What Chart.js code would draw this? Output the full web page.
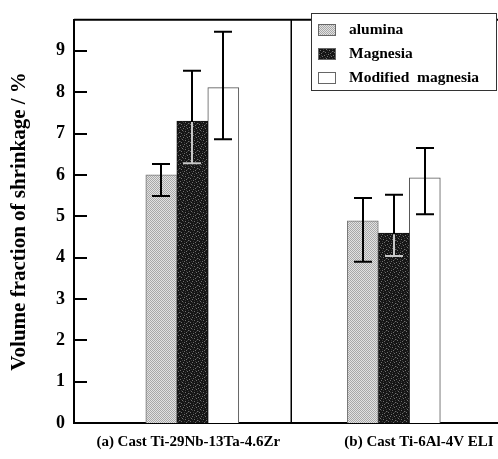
<!DOCTYPE html>
<html><head><meta charset="utf-8">
<script src="https://cdn.jsdelivr.net/npm/chart.js@4/dist/chart.umd.min.js"></script>
<style>html,body{margin:0;padding:0;background:#fff;}canvas{display:block}</style>
</head><body>
<canvas id="c" width="498" height="459"></canvas>
<script>
// ---- data ----
const categories = ['(a) Cast Ti-29Nb-13Ta-4.6Zr', '(b) Cast Ti-6Al-4V ELI'];
const seriesNames = ['alumina', 'Magnesia', 'Modified  magnesia'];
const alumina = [6.00, 4.89];
const magnesia = [7.30, 4.59];
const modified = [8.11, 5.93];
const aluminaLow = [5.49, 3.90];
const aluminaHigh = [6.26, 5.44];
const magnesiaLow = [6.28, 4.04];
const magnesiaHigh = [8.52, 5.52];
const modifiedLow = [6.86, 5.05];
const modifiedHigh = [9.46, 6.65];
const yTicks = [0, 1, 2, 3, 4, 5, 6, 7, 8, 9];
const yAxisTitle = 'Volume fraction of shrinkage / %';

// ---- patterns ----
function makePattern(size, fn) {
  const c = document.createElement('canvas');
  c.width = size; c.height = size;
  const g = c.getContext('2d');
  fn(g);
  return g.createPattern(c, 'repeat');
}
const ctxMain = document.getElementById('c').getContext('2d');
const aluminaFill = makePattern(2, g => {
  g.fillStyle = '#e2e2e2'; g.fillRect(0, 0, 2, 2);
  g.fillStyle = '#a8a8a8'; g.fillRect(0, 0, 1, 1); g.fillRect(1, 1, 1, 1);
});
const magnesiaFill = makePattern(9, g => {
  g.fillStyle = '#151515'; g.fillRect(0, 0, 9, 9);
  g.fillStyle = '#707070';
  [[0,1],[4,0],[7,2],[2,4],[5,5],[1,7],[8,6],[6,8],[3,2]].forEach(p => g.fillRect(p[0], p[1], 1, 1));
  g.fillStyle = '#3a3a3a';
  [[1,3],[6,1],[0,6],[4,7],[8,4],[2,0],[5,3],[7,7],[3,5]].forEach(p => g.fillRect(p[0], p[1], 1, 1));
});

const serif = "'Liberation Serif', 'DejaVu Serif', serif";
const lows = [aluminaLow, magnesiaLow, modifiedLow];
const highs = [aluminaHigh, magnesiaHigh, modifiedHigh];
const insideColors = ['#000', '#c8c8c8', '#000'];

const toPts = arr => arr.map((v, i) => ({ x: i, y: v }));

const decorPlugin = {
  id: 'decor',
  afterDatasetsDraw(chart) {
    const { ctx, chartArea: a, scales: { x, y } } = chart;
    ctx.save();
    // error bars
    chart.data.datasets.forEach((ds, di) => {
      const meta = chart.getDatasetMeta(di);
      meta.data.forEach((el, j) => {
        const cx = Math.round(el.x);
        const yl = y.getPixelForValue(lows[di][j]);
        const yh = y.getPixelForValue(highs[di][j]);
        const half = 9;
        ctx.lineWidth = 2;
        ctx.strokeStyle = '#000';
        ctx.beginPath();
        ctx.moveTo(cx, yl); ctx.lineTo(cx, yh);
        ctx.moveTo(cx - half, yh); ctx.lineTo(cx + half, yh);
        ctx.moveTo(cx - half, yl); ctx.lineTo(cx + half, yl);
        ctx.stroke();
        if (insideColors[di] !== '#000') {
          const top = el.y + 1;
          ctx.strokeStyle = insideColors[di];
          ctx.beginPath();
          ctx.moveTo(cx, Math.max(top, yh)); ctx.lineTo(cx, yl);
          if (yl > top) { ctx.moveTo(cx - half, yl); ctx.lineTo(cx + half, yl); }
          ctx.stroke();
        }
      });
    });
    // divider between groups
    const xd = Math.round(x.getPixelForValue(0.49)) + 0.25;
    ctx.strokeStyle = '#000';
    ctx.lineWidth = 1.5;
    ctx.beginPath(); ctx.moveTo(xd, a.top); ctx.lineTo(xd, a.bottom); ctx.stroke();
    // top frame line
    ctx.lineWidth = 2;
    ctx.beginPath(); ctx.moveTo(a.left, a.top); ctx.lineTo(a.right, a.top); ctx.stroke();
    // inward tick marks on y axis
    y.ticks.forEach(t => {
      const py = Math.round(y.getPixelForValue(t.value));
      ctx.beginPath(); ctx.moveTo(a.left, py); ctx.lineTo(a.left + 13, py); ctx.stroke();
    });
    // legend box
    const lx = 311, ly = 13, lw = 186, lh = 78;
    ctx.fillStyle = '#fff';
    ctx.fillRect(lx, ly, lw, lh);
    ctx.lineWidth = 1;
    ctx.strokeStyle = '#333';
    ctx.strokeRect(lx + 0.5, ly + 0.5, lw - 1, lh - 1);
    ctx.font = 'bold 15.5px ' + serif;
    ctx.textBaseline = 'middle';
    ctx.textAlign = 'left';
    chart.data.datasets.forEach((ds, di) => {
      const cy = 30 + di * 24;
      ctx.fillStyle = ds.backgroundColor;
      ctx.fillRect(318, cy - 6, 18, 12);
      ctx.strokeStyle = '#666';
      ctx.strokeRect(318.5, cy - 5.5, 17, 11);
      ctx.fillStyle = '#000';
      ctx.fillText(ds.label, 349, cy);
    });
    ctx.restore();
  }
};

new Chart(ctxMain, {
  type: 'bar',
  data: {
    datasets: [
      { label: seriesNames[0], data: toPts(alumina), backgroundColor: aluminaFill, borderColor: '#777', borderWidth: 1 },
      { label: seriesNames[1], data: toPts(magnesia), backgroundColor: magnesiaFill, borderColor: '#111', borderWidth: 1 },
      { label: seriesNames[2], data: toPts(modified), backgroundColor: '#fff', borderColor: '#555', borderWidth: 1 }
    ]
  },
  options: {
    responsive: false,
    animation: false,
    layout: { padding: { top: 10, right: 0, left: 0, bottom: 0 } },
    datasets: { bar: { barThickness: 31, grouped: true } },
    plugins: { legend: { display: false }, tooltip: { enabled: false } },
    scales: {
      x: {
        type: 'linear',
        min: -0.587, max: 1.517,
        offset: false,
        grid: { display: false, drawTicks: false },
        border: { display: true, color: '#000', width: 2 },
        afterBuildTicks(s) { s.ticks = [{ value: -0.02 }, { value: 1.125 }]; },
        afterFit(s) { s.height = 36; s.paddingLeft = 0; s.paddingRight = 0; },
        ticks: {
          autoSkip: false, maxRotation: 0, minRotation: 0, padding: 10,
          color: '#000', font: { family: serif, size: 15, weight: 'bold' },
          callback: (v, i) => categories[i]
        }
      },
      y: {
        min: 0, max: 9.75,
        grid: { display: false, drawTicks: false },
        border: { display: true, color: '#000', width: 2 },
        afterBuildTicks(s) { s.ticks = yTicks.map(v => ({ value: v })); },
        afterFit(s) { s.width = 74; },
        ticks: {
          padding: 9, color: '#000',
          font: { family: serif, size: 18, weight: 'bold' }
        },
        title: {
          display: true, text: yAxisTitle, color: '#000',
          font: { family: serif, size: 21, weight: 'bold' },
          padding: { top: 7, bottom: 0 }
        }
      }
    }
  },
  plugins: [decorPlugin]
});
</script>
</body></html>
